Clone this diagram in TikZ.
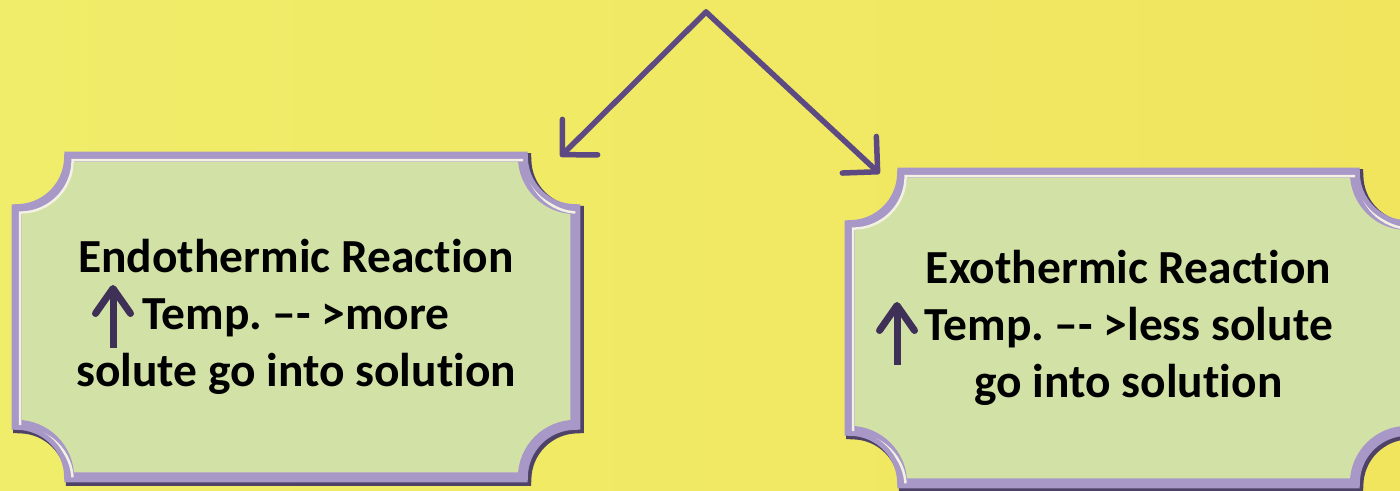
\documentclass[tikz,border=0pt]{standalone}
\usepackage{fontspec}
\setmainfont{Carlito}[Ligatures={NoCommon}]
\usepackage{tikz}
\usetikzlibrary{arrows.meta}
\usetikzlibrary{calc}
\usetikzlibrary{backgrounds}
\usetikzlibrary{positioning}
\definecolor{bgleft}{HTML}{F0ED6A}
\definecolor{bgmid}{HTML}{F2DB50}
\definecolor{bgright}{HTML}{F1E55E}
\definecolor{boxfill}{HTML}{D2E2A6}
\definecolor{bevel}{HTML}{A898C8}
\definecolor{beveldark}{HTML}{4E4266}
\definecolor{bevellight}{HTML}{F2F1E2}
\definecolor{arrowcolor}{HTML}{5E4A82}
\definecolor{markcolor}{HTML}{3E3056}
\frenchspacing

%% plaque outline with concave corners round a node
\newcommand{\plaque}[2]{%
  ($(#1.north west)+(#2,0)$) -- ($(#1.north east)+(-#2,0)$)
  arc[start angle=180,end angle=270,radius=#2]
  -- ($(#1.south east)+(0,#2)$)
  arc[start angle=90,end angle=180,radius=#2]
  -- ($(#1.south west)+(#2,0)$)
  arc[start angle=0,end angle=90,radius=#2]
  -- ($(#1.north west)+(0,-#2)$)
  arc[start angle=270,end angle=360,radius=#2] -- cycle}

\begin{document}
\begin{tikzpicture}[
  box/.style={align=center,inner sep=0pt,font=\bfseries\fontsize{27}{32.4}\selectfont},
  bigarrow/.style={arrowcolor,line width=0.11cm,line cap=round,-{Straight Barb[length=0.5cm,width=1.0cm,round]}},
  markarrow/.style={markcolor,line width=0.14cm,-{Straight Barb[length=0.5cm,width=0.7cm,round]}}]

\useasboundingbox (0,0) rectangle (28,9.82);

\node[box,minimum width=11.16cm,minimum height=6.4cm] (endo) at (5.92,3.48)
  {Endothermic Reaction\\Temp. –- >more\\solute go into solution};
\node[box,minimum width=11.14cm,minimum height=6.2cm] (exo) at (22.57,3.26)
  {Exothermic Reaction\\Temp. –- >less solute\\go into solution};

\begin{scope}[on background layer]
  \shade[left color=bgleft,middle color=bgmid,right color=bgright] (0,0) rectangle (28,9.82);
  \foreach \b in {endo,exo} {
    \begin{scope}[transform canvas={shift={(0.05,-0.05)}}]
      \draw[beveldark,line width=0.24cm] \plaque{\b}{1.05};
    \end{scope}
    \draw[fill=boxfill,draw=bevel,line width=0.2cm] \plaque{\b}{1.05};
    \begin{scope}
      \clip \plaque{\b}{1.05};
      \begin{scope}[transform canvas={shift={(0.07,-0.07)}}]
        \draw[bevellight,line width=0.05cm] \plaque{\b}{1.05};
      \end{scope}
    \end{scope}
  }
\end{scope}

\coordinate (apex) at (14.12,9.58);
\draw[bigarrow] (apex) -- ([xshift=-0.3cm,yshift=0.0cm]endo.north east);
\draw[bigarrow] (apex) -- ([xshift=0.6cm,yshift=-0.02cm]exo.north west);

%% rising temperature marks
\draw[markarrow] ($(endo.center)+(-3.66,-0.62)$) -- ++(0,1.26);
\draw[markarrow] ($(exo.center)+(-4.63,-0.74)$) -- ++(0,1.26);
\end{tikzpicture}
\end{document}
